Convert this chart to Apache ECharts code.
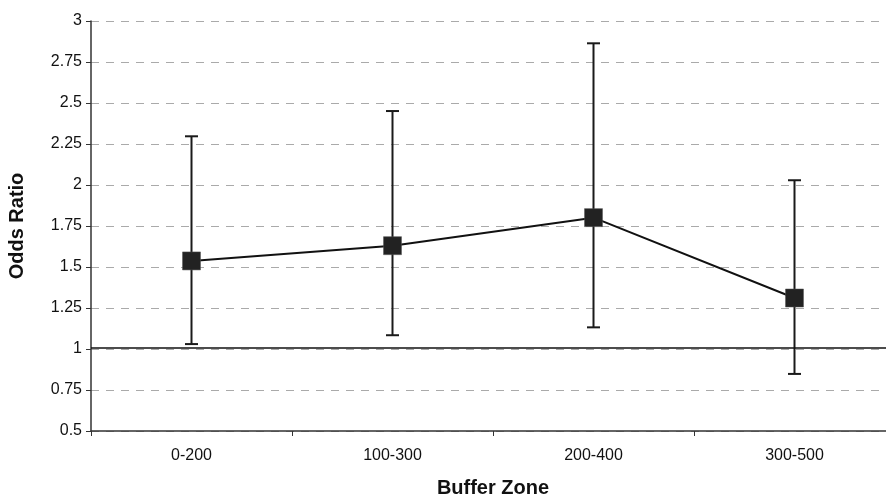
<!DOCTYPE html>
<html>
<head>
<meta charset="utf-8">
<script src="https://cdn.jsdelivr.net/npm/echarts@6/dist/echarts.min.js"></script>
<style>html,body{margin:0;padding:0;background:#fff;}#c{width:886px;height:496px;}</style>
</head>
<body>
<div id="c"></div>
<script>
const categories = ['0-200', '100-300', '200-400', '300-500'];
const oddsRatio = [1.537, 1.630, 1.801, 1.311];
const lowerCI = [1.030, 1.084, 1.132, 0.848];
const upperCI = [2.297, 2.451, 2.864, 2.029];
const referenceValue = 1.015;

const chart = echarts.init(document.getElementById('c'));
const errData = categories.map((c, i) => [i, lowerCI[i], upperCI[i]]);
const font = 'Liberation Sans, Arial, sans-serif';
chart.setOption({
  animation: false,
  grid: { left: 91, right: -9, top: 21, bottom: 65, containLabel: false, outerBoundsMode: 'none' },
  xAxis: {
    type: 'category',
    data: categories,
    boundaryGap: true,
    axisLine: { lineStyle: { color: '#333', width: 1.5 } },
    axisTick: { show: true, length: 5, lineStyle: { color: '#333' } },
    axisLabel: { color: '#111', fontSize: 16, fontFamily: font, margin: 17 },
    name: 'Buffer Zone',
    nameLocation: 'middle',
    nameGap: 47,
    nameTextStyle: { color: '#111', fontSize: 20, fontWeight: 'bold', fontFamily: font }
  },
  yAxis: {
    type: 'value',
    min: 0.5, max: 3, interval: 0.25,
    axisLine: { show: true, lineStyle: { color: '#333', width: 1.5 } },
    axisTick: { show: true, length: 5, lineStyle: { color: '#333' } },
    axisLabel: { color: '#111', fontSize: 16, fontFamily: font, margin: 9 },
    splitLine: { lineStyle: { color: '#aaa', type: [8, 7], width: 1 } },
    name: 'Odds Ratio',
    nameLocation: 'middle',
    nameGap: 64,
    nameTextStyle: { color: '#111', fontSize: 20, fontWeight: 'bold', fontFamily: font }
  },
  series: [
    {
      type: 'line',
      data: [],
      markLine: {
        silent: true,
        symbol: 'none',
        label: { show: false },
        lineStyle: { color: '#111', type: 'solid', width: 1.5 },
        data: [{ yAxis: referenceValue }]
      },
      z: 1
    },
    {
      type: 'custom',
      data: errData,
      z: 2,
      renderItem: function (params, api) {
        const x = api.value(0);
        const lo = api.coord([x, api.value(1)]);
        const hi = api.coord([x, api.value(2)]);
        const half = 6.5;
        const st = { stroke: '#1a1a1a', lineWidth: 2 };
        return {
          type: 'group',
          children: [
            { type: 'line', shape: { x1: lo[0], y1: lo[1], x2: hi[0], y2: hi[1] }, style: st },
            { type: 'line', shape: { x1: lo[0] - half, y1: lo[1], x2: lo[0] + half, y2: lo[1] }, style: st },
            { type: 'line', shape: { x1: hi[0] - half, y1: hi[1], x2: hi[0] + half, y2: hi[1] }, style: st }
          ]
        };
      }
    },
    {
      type: 'line',
      data: oddsRatio,
      symbol: 'rect',
      symbolSize: 18,
      itemStyle: { color: '#222', borderColor: '#555', borderWidth: 0.5 },
      lineStyle: { color: '#111', width: 2 },
      z: 3
    }
  ]
});
</script>
</body>
</html>
